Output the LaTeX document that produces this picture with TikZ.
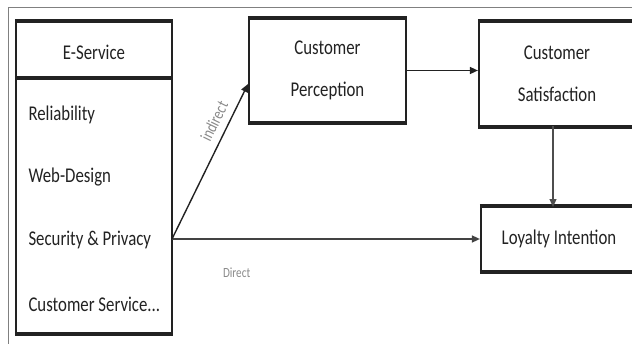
\documentclass[tikz,border=0pt]{standalone}
\usepackage{fontspec}
\setmainfont[FakeStretch=0.8]{Carlito}
\usepackage{tikz}
\usetikzlibrary{arrows.meta,positioning,calc}
\definecolor{ink}{HTML}{222222}
\definecolor{lbl}{HTML}{8a8a8a}

\begin{document}
\begin{tikzpicture}[x=1pt,y=-1pt,
  box/.style={draw=ink,line width=2.2pt,minimum width=156pt,align=center,
    font=\fontsize{21}{42}\selectfont,text=ink},
  item/.style={anchor=west,font=\fontsize{21}{25}\selectfont,text=ink},
  lab/.style={font=\fontsize{14}{16}\selectfont,text=lbl},
  every path/.style={-{Triangle[length=8pt,width=7pt]}}]
\useasboundingbox (0,0) rectangle (632,343);
\clip (0,0) rectangle (632,343);
\draw[-,gray,line width=0.9pt] (8,7) rectangle (660,370);
% e-service list
\node[box,minimum height=311pt] (eserv) at (94,177.5) {};
\draw[-,ink,line width=3.2pt] (eserv.west |- 0,78) -- (eserv.east |- 0,78);
\node[font=\fontsize{21}{25}\selectfont,text=ink] (head) at (94,52) {E-Service};
\node[item] (rel) at (25,115) {Reliability};
\node[item] (web) at (25,177) {Web-Design};
\node[item] (sec) at (25,240) {Security \& Privacy};
\node[item] (cust) at (25,304) {Customer Service...};
% constructs
\node[box,minimum width=157pt,minimum height=103pt] (cp) at (327.5,70.5) {Customer\\ Perception};
\node[box,minimum height=104pt] (cs) at (557,74) {Customer\\ Satisfaction};
\node[box,minimum height=64pt] (li) at (559,239) {Loyalty Intention};
\foreach \n in {eserv,cp,cs,li} {
  \draw[-,ink,line width=3.4pt] (\n.north west) -- (\n.north east);
  \draw[-,ink,line width=3.4pt] (\n.south west) -- (\n.south east);
}
\coordinate (src) at (172,239);
\coordinate (tip) at (248,84);
\draw[ink,line width=1.5pt] (cp.east) -- (cp.east -| cs.west);
\draw[ink!80,line width=1.1pt] (553,126) -- (553,207);
\draw[ink!85,line width=1.4pt] (src) -- (li.west)
  node[lab,pos=0.21,below=25pt] (dir) {Direct};
\draw[ink,line width=1.4pt] (src) -- (tip)
  node[lab,pos=0.72,sloped,above=4pt,font=\fontsize{17}{19}\selectfont] (ind) {indirect};
\end{tikzpicture}
\end{document}
